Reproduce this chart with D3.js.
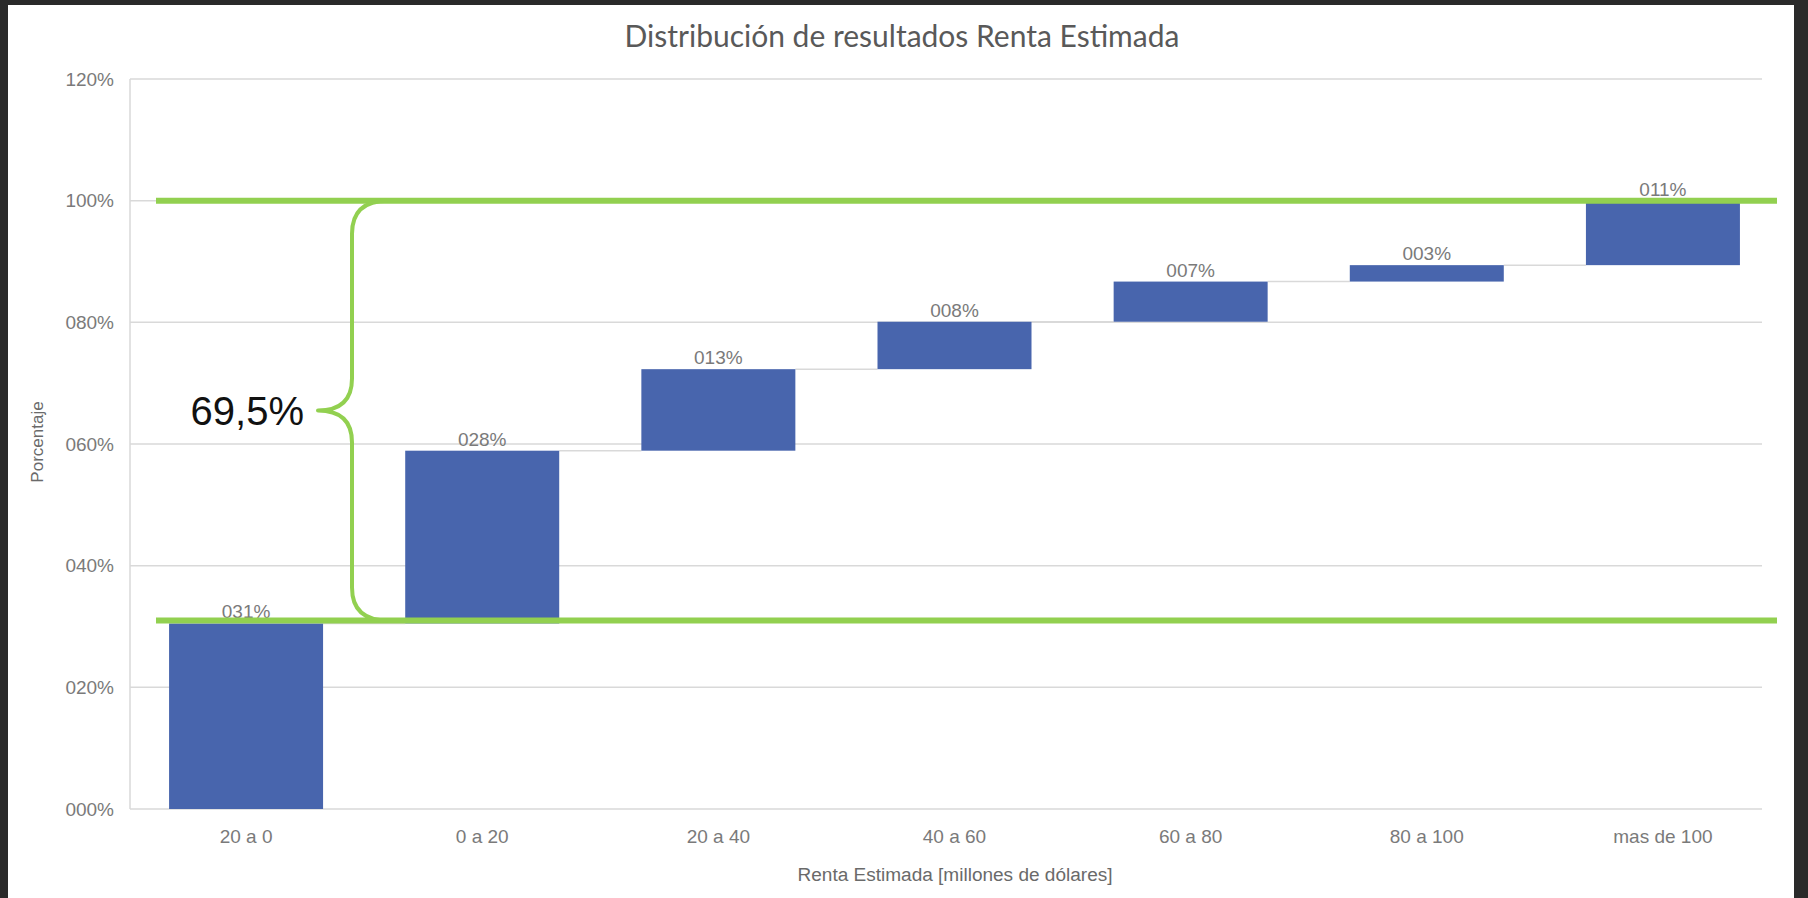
<!DOCTYPE html>
<html>
<head>
<meta charset="utf-8">
<script src="https://cdn.jsdelivr.net/npm/d3@7"></script>
<style>
  html, body { margin: 0; padding: 0; background: #2a2a2a; }
  svg { display: block; }
</style>
</head>
<body>
<svg id="chart" width="1808" height="898"></svg>
<script>
// ---- data ----
const title = "Distribución de resultados Renta Estimada";
const categories = ["20 a 0", "0 a 20", "20 a 40", "40 a 60", "60 a 80", "80 a 100", "mas de 100"];
const increments = [30.5, 28.4, 13.4, 7.8, 6.6, 2.7, 10.6];   // percent
const yTicks = [0, 20, 40, 60, 80, 100, 120];
const xTitle = "Renta Estimada [millones de dólares]";
const yTitle = "Porcentaje";
const braceLow = 30.5, braceHigh = 100;
const braceLabel = "69,5%";

// ---- layout ----
const svg = d3.select("#chart");
const W = 1808, H = 898;
const plot = { left: 130, right: 1762, top: 79, bottom: 809, bandLeft: 128, bandRight: 1781 };

svg.append("rect").attr("x", 0).attr("y", 0).attr("width", W).attr("height", H).attr("fill", "#2a2a2a");
svg.append("rect").attr("x", 8).attr("y", 5).attr("width", 1786).attr("height", H - 5).attr("fill", "#ffffff");

const x = d3.scaleBand().domain(categories).range([plot.bandLeft, plot.bandRight]).padding(0);
const y = d3.scaleLinear().domain([0, 120]).range([plot.bottom, plot.top]);
const barW = 154;

// cumulative
let acc = 0;
const bars = categories.map((c, i) => {
  const start = acc; acc += increments[i];
  return { cat: c, start, end: acc, v: increments[i] };
});
const cx = c => x(c) + x.bandwidth() / 2;

// gridlines
svg.append("g").selectAll("line").data(yTicks).join("line")
  .attr("x1", plot.left).attr("x2", plot.right)
  .attr("y1", d => y(d)).attr("y2", d => y(d))
  .attr("stroke", "#d9d9d9").attr("stroke-width", 1.5);
// left axis line
svg.append("line").attr("x1", plot.left).attr("x2", plot.left)
  .attr("y1", y(120)).attr("y2", y(0)).attr("stroke", "#d9d9d9").attr("stroke-width", 1.5);

// y tick labels
svg.append("g").selectAll("text").data(yTicks).join("text")
  .attr("x", plot.left - 16).attr("y", d => y(d)).attr("dy", "0.35em")
  .attr("text-anchor", "end")
  .attr("font-family", "Liberation Sans, Arial, sans-serif").attr("font-size", 19)
  .attr("fill", "#7a7a7a")
  .text(d => String(d).padStart(3, "0") + "%");

// x tick labels
svg.append("g").selectAll("text").data(categories).join("text")
  .attr("x", d => cx(d)).attr("y", 843)
  .attr("text-anchor", "middle")
  .attr("font-family", "Liberation Sans, Arial, sans-serif").attr("font-size", 19)
  .attr("fill", "#7a7a7a")
  .text(d => d);

// connectors
svg.append("g").selectAll("line").data(bars.slice(0, -1)).join("line")
  .attr("x1", d => cx(d.cat) + barW / 2)
  .attr("x2", (d, i) => cx(categories[i + 1]) - barW / 2)
  .attr("y1", d => y(d.end)).attr("y2", d => y(d.end))
  .attr("stroke", "#d9d9d9").attr("stroke-width", 1.5);

// bars
svg.append("g").selectAll("rect").data(bars).join("rect")
  .attr("x", d => cx(d.cat) - barW / 2)
  .attr("width", barW)
  .attr("y", d => y(d.end))
  .attr("height", d => y(d.start) - y(d.end))
  .attr("fill", "#4865ad");

// data labels
svg.append("g").selectAll("text").data(bars).join("text")
  .attr("x", d => cx(d.cat))
  .attr("y", d => y(d.end) - 5)
  .attr("text-anchor", "middle")
  .attr("font-family", "Liberation Sans, Arial, sans-serif").attr("font-size", 19)
  .attr("fill", "#7a7a7a")
  .text(d => String(Math.round(d.v)).padStart(3, "0") + "%");

// green reference lines
const gx0 = 156, gx1 = 1777;
const yHigh = y(braceHigh), yLow = y(braceLow) - 3;
svg.append("g").selectAll("line").data([yHigh, yLow]).join("line")
  .attr("x1", gx0).attr("x2", gx1)
  .attr("y1", d => d).attr("y2", d => d)
  .attr("stroke", "#92d050").attr("stroke-width", 6);

// brace
const bx = 352, tipX = 318, r = 33;
const yMid = (yHigh + yLow) / 2;
const bracePath = `M ${bx + r + 3},${yHigh} Q ${bx},${yHigh} ${bx},${yHigh + r}
  L ${bx},${yMid - 32} Q ${bx},${yMid} ${tipX},${yMid}
  Q ${bx},${yMid} ${bx},${yMid + 32}
  L ${bx},${yLow - r} Q ${bx},${yLow} ${bx + r + 3},${yLow}`;
svg.append("path").attr("d", bracePath).attr("fill", "none")
  .attr("stroke", "#92d050").attr("stroke-width", 4).attr("stroke-linejoin", "round");

svg.append("text").attr("x", 304).attr("y", yMid + 14)
  .attr("text-anchor", "end")
  .attr("font-family", "Liberation Sans, Arial, sans-serif").attr("font-size", 40)
  .attr("fill", "#111111")
  .text(braceLabel);

// title
svg.append("text").attr("x", 902).attr("y", 47)
  .attr("text-anchor", "middle")
  .attr("font-family", "Lato, sans-serif").attr("font-size", 30)
  .attr("fill", "#595959")
  .text(title);

// axis titles
svg.append("text").attr("x", 955).attr("y", 881)
  .attr("text-anchor", "middle")
  .attr("font-family", "Liberation Sans, Arial, sans-serif").attr("font-size", 18)
  .attr("textLength", 315).attr("lengthAdjust", "spacingAndGlyphs")
  .attr("fill", "#6a6a6a")
  .text(xTitle);

svg.append("text")
  .attr("transform", "translate(43,442) rotate(-90)")
  .attr("text-anchor", "middle")
  .attr("font-family", "Liberation Sans, Arial, sans-serif").attr("font-size", 17)
  .attr("fill", "#6a6a6a")
  .text(yTitle);
</script>
</body>
</html>
